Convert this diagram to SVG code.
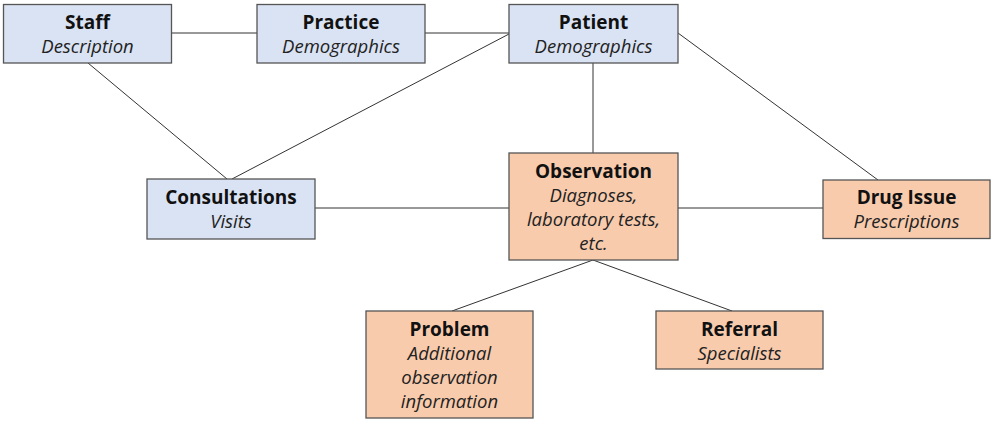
<svg xmlns="http://www.w3.org/2000/svg" width="991" height="421" viewBox="0 0 991 421">
  <style>
    .box { stroke: #555; stroke-width: 1.3; }
    .blue { fill: #dae3f3; }
    .peach { fill: #f8cbad; }
    .title { font-family: "Open Sans", "Liberation Sans", sans-serif; font-weight: bold; font-size: 19px; fill: #111; text-anchor: middle; }
    .sub { font-family: "Open Sans", "Liberation Sans", sans-serif; font-style: italic; font-size: 18.5px; fill: #222; text-anchor: middle; }
    .link { stroke: #333; stroke-width: 1; fill: none; }
  </style>
  <rect width="991" height="421" fill="#ffffff"/>

  <!-- connectors -->
  <g id="connectors">
    <line class="link" x1="172" y1="33" x2="257" y2="33"/>
    <line class="link" x1="425" y1="33" x2="509" y2="33"/>
    <line class="link" x1="88" y1="63" x2="227" y2="179"/>
    <line class="link" x1="509" y1="34" x2="232" y2="179"/>
    <line class="link" x1="593" y1="63" x2="593" y2="153"/>
    <line class="link" x1="678" y1="33" x2="878" y2="180"/>
    <line class="link" x1="315" y1="208" x2="509" y2="208"/>
    <line class="link" x1="678" y1="208" x2="823" y2="208"/>
    <line class="link" x1="593" y1="260" x2="452" y2="311"/>
    <line class="link" x1="593" y1="260" x2="732" y2="311"/>
  </g>

  <g id="staff">
    <rect class="box blue" x="3.5" y="4.5" width="168" height="58.5"/>
    <text class="title" x="87.5" y="29">Staff</text>
    <text class="sub" x="87.5" y="53">Description</text>
  </g>

  <g id="practice">
    <rect class="box blue" x="257" y="4.5" width="168" height="58.5"/>
    <text class="title" x="341" y="29">Practice</text>
    <text class="sub" x="341" y="53">Demographics</text>
  </g>

  <g id="patient">
    <rect class="box blue" x="509" y="4.5" width="169" height="58.5"/>
    <text class="title" x="593.5" y="29">Patient</text>
    <text class="sub" x="593.5" y="53">Demographics</text>
  </g>

  <g id="consultations">
    <rect class="box blue" x="147" y="179" width="168" height="60"/>
    <text class="title" x="231" y="204">Consultations</text>
    <text class="sub" x="231" y="228">Visits</text>
  </g>

  <g id="observation">
    <rect class="box peach" x="509" y="153" width="169" height="107"/>
    <text class="title" x="593.5" y="178">Observation</text>
    <text class="sub" x="593.5" y="202">Diagnoses,</text>
    <text class="sub" x="593.5" y="226">laboratory tests,</text>
    <text class="sub" x="593.5" y="250">etc.</text>
  </g>

  <g id="drug-issue">
    <rect class="box peach" x="823" y="180" width="167" height="58.5"/>
    <text class="title" x="906.5" y="204">Drug Issue</text>
    <text class="sub" x="906.5" y="228">Prescriptions</text>
  </g>

  <g id="problem">
    <rect class="box peach" x="366" y="311" width="167" height="107"/>
    <text class="title" x="449.5" y="336">Problem</text>
    <text class="sub" x="449.5" y="360">Additional</text>
    <text class="sub" x="449.5" y="384">observation</text>
    <text class="sub" x="449.5" y="408">information</text>
  </g>

  <g id="referral">
    <rect class="box peach" x="656" y="311" width="167" height="58"/>
    <text class="title" x="739.5" y="336">Referral</text>
    <text class="sub" x="739.5" y="360">Specialists</text>
  </g>
</svg>
